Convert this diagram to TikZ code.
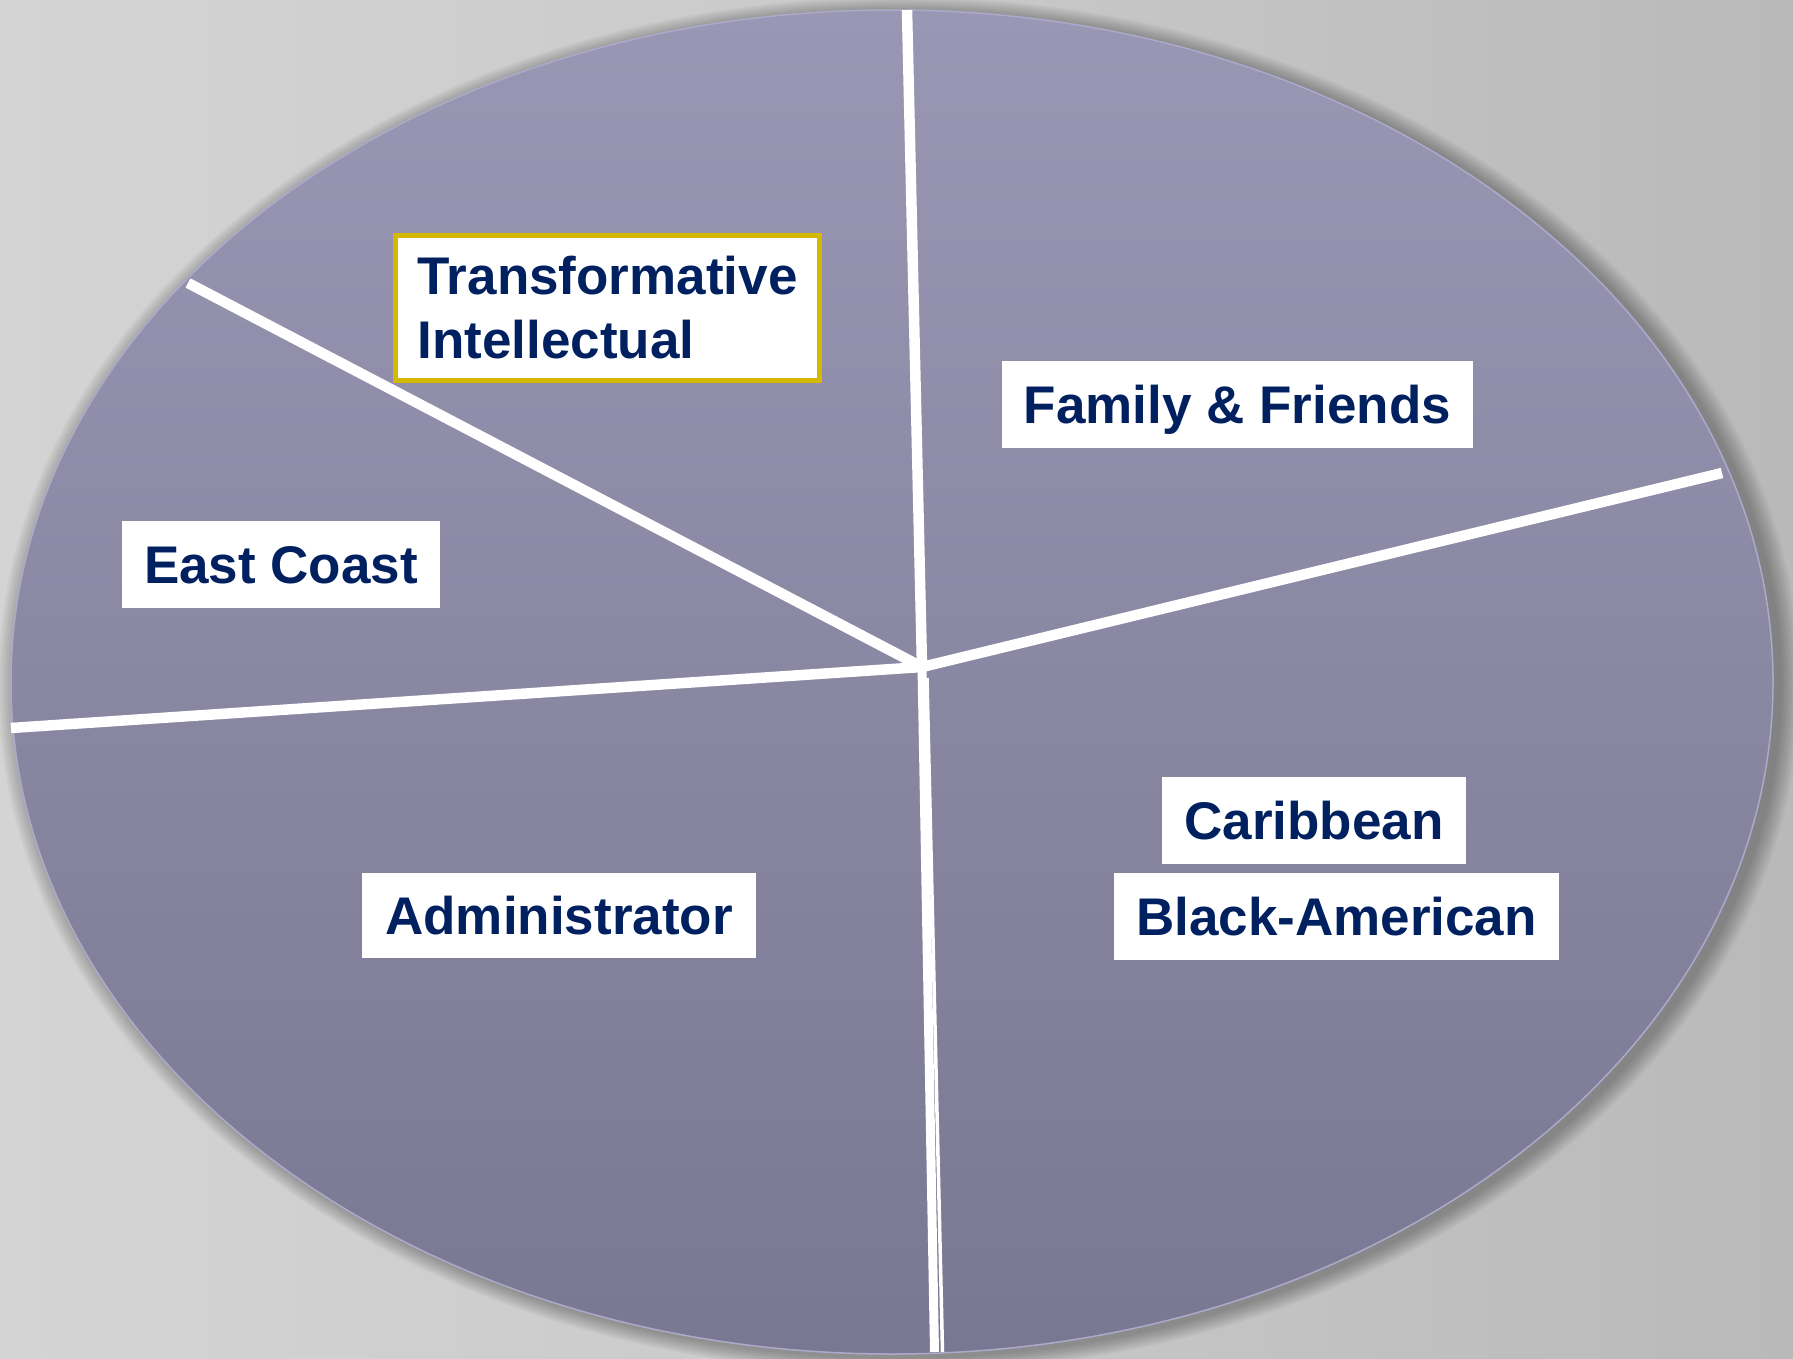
\documentclass[tikz,border=0pt]{standalone}
\usepackage{fontspec}
\setmainfont{Liberation Sans}
\definecolor{bglight}{HTML}{D4D4D4}
\definecolor{bgdark}{HTML}{B9B9B9}
\definecolor{pietop}{HTML}{9A97B4}
\definecolor{piebot}{HTML}{7A7792}
\definecolor{pieedge}{HTML}{ACAACB}
\definecolor{navy}{HTML}{002060}
\definecolor{gold}{HTML}{D4B800}
\tikzset{
  divider/.style={draw=white, line width=10.5pt},
  labelbox/.style={fill=white, inner sep=0pt, text=navy,
    font=\fontsize{53}{64}\selectfont\bfseries, text height=38pt, text depth=0pt},
}
\begin{document}
\begin{tikzpicture}[x={(1pt,0)}, y={(0,-1pt)}]
\useasboundingbox (0,0) rectangle (1793,1359);
% background
\shade[shading=axis, left color=bglight, right color=bgdark, shading angle=0] (0,0) rectangle (1793,1359);
\shade[left color=bglight, right color=bgdark, middle color=bglight!60!bgdark] (0,0) rectangle (1793,1359);
% soft shadow
\foreach \i in {1,...,10} {
  \fill[black, opacity=0.03] (899,685) ellipse ({881+2*\i} and {672+1.6*\i});
}
% pie body
\shade[top color=pietop, bottom color=piebot] (892,682) ellipse (881 and 672);
\draw[pieedge, line width=1.5pt] (892,682) ellipse (881 and 672);
% spokes
\coordinate (c) at (922,667);
\coordinate (etop) at (907,10);
\coordinate (eright) at (1722,473);
\coordinate (eul) at (188,283);
\coordinate (eleft) at (11,728);
\coordinate (ebot) at (934.5,1352);
\coordinate (tstart) at (927,678);
\coordinate (tend) at (942.5,1352);
\draw[divider] (c) -- (etop);
\draw[divider] (c) -- (eright);
\draw[divider] (c) -- (eul);
\draw[divider] (c) -- (eleft);
\draw[draw=white, line width=9pt] (c) -- (ebot);
\draw[draw=white, line width=3.5pt] (tstart) -- (tend);
% labels
\node[fill=white, draw=gold, line width=5pt, inner sep=0pt, text=navy,
  font=\fontsize{53}{64}\selectfont\bfseries, align=left,
  minimum width=424pt, minimum height=145pt] (ti) at (607.5,308) {Transformative\\Intellectual};
\node[labelbox, minimum width=318pt, minimum height=87pt] (ec) at (281,564.5) {East Coast};
\node[labelbox, minimum width=471pt, minimum height=87pt] (ff) at (1237.5,404.5) {Family \& Friends};
\node[labelbox, minimum width=394pt, minimum height=85pt] (ad) at (559,915.5) {Administrator};
\node[labelbox, minimum width=304pt, minimum height=87pt] (ca) at (1314,820.5) {Caribbean};
\node[labelbox, minimum width=445pt, minimum height=87pt] (ba) at (1336.5,916.5) {Black-American};
\end{tikzpicture}
\end{document}
